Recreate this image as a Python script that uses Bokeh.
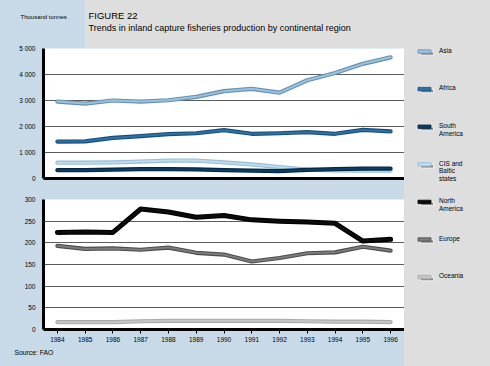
from bokeh.plotting import figure
from bokeh.layouts import column, row
from bokeh.models import Range1d, FixedTicker
from bokeh.core.properties import value
from bokeh.embed import file_html
from bokeh.resources import INLINE

# ---------------- data ----------------
years = [1984, 1985, 1986, 1987, 1988, 1989, 1990, 1991, 1992, 1993, 1994, 1995, 1996]
year_labels = [str(y) for y in years]

asia = [2960, 2880, 3000, 2960, 3010, 3140, 3360, 3450, 3300, 3780, 4060, 4410, 4660]
africa = [1420, 1430, 1560, 1630, 1710, 1740, 1860, 1720, 1740, 1780, 1720, 1870, 1810]
south_america = [320, 320, 340, 360, 360, 350, 320, 300, 280, 330, 360, 380, 380]
cis_baltic = [610, 610, 620, 650, 690, 690, 620, 540, 440, 340, 310, 300, 300]

north_america = [224, 225, 224, 278, 271, 259, 263, 253, 250, 248, 245, 204, 208]
europe = [193, 186, 187, 184, 189, 177, 173, 157, 165, 176, 178, 191, 182]
oceania = [17, 17, 17, 19, 20, 20, 20, 20, 20, 19, 18, 18, 17]

upper_ticks = [0, 1000, 2000, 3000, 4000, 5000]
upper_tick_labels = ["0", "1 000", "2 000", "3 000", "4 000", "5 000"]
lower_ticks = [0, 50, 100, 150, 200, 250, 300]
lower_tick_labels = ["0", "50", "100", "150", "200", "250", "300"]

legend_names = ["Asia", "Africa", "South\nAmerica", "CIS and\nBaltic\nstates",
                "North\nAmerica", "Europe", "Oceania"]

title_1 = "FIGURE 22"
title_2 = "Trends in inland capture fisheries production by continental region"
unit_label = "Thousand tonnes"
source_label = "Source: FAO"

# ---------------- styles ----------------
FONT = "Liberation Sans"
BLUE_BG = "#c8dae7"
GRAY_BG = "#dedede"
GRID = "#5c5c5c"

# (outer, inner, outer width, inner width)
styles_series = [
    ("#6392b4", "#9dc1da", 4.2, 2.0),   # Asia
    ("#174d78", "#2d72a6", 4.2, 2.0),   # Africa
    ("#042744", "#0b3d66", 4.2, 2.0),   # South America
    ("#98bfd8", "#bfdaec", 4.2, 2.0),   # CIS
    ("#000000", "#0c0c0c", 5.0, 2.5),   # North America
    ("#4c4c4c", "#7c7c7c", 4.2, 2.0),   # Europe
    ("#a9a9a9", "#c6c6c6", 4.2, 2.0),   # Oceania
]

W_ALL, H_ALL = 490, 366
W_PLOT = 404
W_LEG = W_ALL - W_PLOT
H_TITLE = 42
H_UP, H_LOW = 148, 156
H_SRC = H_ALL - H_TITLE - H_UP - H_LOW


def base_fig(w, h, xr, yr, **kw):
    p = figure(width=w, height=h, x_range=xr, y_range=yr, output_backend="svg",
               toolbar_location=None, **kw)
    p.border_fill_color = None
    p.outline_line_color = None
    return p


def text_fig(w, h):
    p = base_fig(w, h, Range1d(0, w), Range1d(h, 0),
                 x_axis_location=None, y_axis_location=None, min_border=0)
    p.background_fill_color = None
    p.xgrid.visible = False
    p.ygrid.visible = False
    return p


def style_axes(p, yticks, ylabels, show_x_labels):
    p.background_fill_color = "white"
    p.xgrid.visible = False
    p.ygrid.ticker = FixedTicker(ticks=yticks[1:-1])
    p.ygrid.grid_line_color = GRID
    p.ygrid.grid_line_width = 1
    ya = p.yaxis[0]
    ya.ticker = FixedTicker(ticks=yticks)
    ya.major_label_overrides = {t: l for t, l in zip(yticks, ylabels)}
    ya.axis_line_width = 3
    ya.axis_line_color = "black"
    ya.major_tick_out = 0
    ya.major_tick_in = 0
    ya.minor_tick_out = 0
    ya.minor_tick_in = 0
    ya.major_label_standoff = 8
    ya.major_label_text_font = FONT
    ya.major_label_text_font_size = "6.5px"
    ya.major_label_text_color = "black"
    xa = p.xaxis[0]
    xa.axis_line_width = 3
    xa.axis_line_color = "black"
    xa.minor_tick_out = 0
    xa.minor_tick_in = 0
    if show_x_labels:
        xa.ticker = FixedTicker(ticks=years)
        xa.major_label_overrides = {y: l for y, l in zip(years, year_labels)}
        xa.major_tick_out = 4
        xa.major_tick_in = 0
        xa.major_tick_line_color = "black"
        xa.major_tick_line_width = 1
        xa.major_label_standoff = 3
        xa.major_label_text_font = FONT
        xa.major_label_text_font_size = "6.5px"
        xa.major_label_text_color = "black"
    else:
        xa.ticker = FixedTicker(ticks=[])
        xa.major_tick_out = 0
        xa.major_tick_in = 0


def draw_series(p, ys, st):
    outer, inner, wo, wi = st
    p.line(years, ys, line_color=outer, line_width=wo, line_join="round", line_cap="round")
    p.line(years, ys, line_color=inner, line_width=wi, line_join="round", line_cap="round")


# ---------------- title strip ----------------
title_fig = text_fig(W_ALL, H_TITLE)
title_fig.text(x=[20], y=[16.5], text=[unit_label], text_font=value(FONT),
               text_font_size="6px", text_baseline="middle", text_align="left",
               text_color="black")
title_fig.text(x=[88], y=[15], text=[title_1], text_font=value(FONT),
               text_font_size="9.5px", text_baseline="middle", text_align="left",
               text_color="black")
title_fig.text(x=[88], y=[27.5], text=[title_2], text_font=value(FONT),
               text_font_size="9px", text_baseline="middle", text_align="left",
               text_color="black")

# ---------------- upper panel ----------------
XR = (1983.5, 1996.5)
upper = base_fig(W_PLOT, H_UP, Range1d(*XR), Range1d(0, 5000),
                 min_border_left=43, min_border_right=0, min_border_top=6, min_border_bottom=12)
style_axes(upper, upper_ticks, upper_tick_labels, False)
draw_series(upper, asia, styles_series[0])
draw_series(upper, africa, styles_series[1])
draw_series(upper, cis_baltic, styles_series[3])
draw_series(upper, south_america, styles_series[2])

# ---------------- lower panel ----------------
lower = base_fig(W_PLOT, H_LOW, Range1d(*XR), Range1d(0, 300),
                 min_border_left=43, min_border_right=0, min_border_top=9, min_border_bottom=17)
style_axes(lower, lower_ticks, lower_tick_labels, True)
draw_series(lower, north_america, styles_series[4])
draw_series(lower, europe, styles_series[5])
draw_series(lower, oceania, styles_series[6])

# ---------------- legend column ----------------
H_LEG = H_UP + H_LOW
leg = text_fig(W_LEG, H_LEG)
n = len(legend_names)
ly = [9 + i * 37.6 for i in range(n)]
leg.rect(x=[22.5] * n, y=[v + 2.0 for v in ly], width=13, height=3.4,
         fill_color="#8a8a8a", line_color="white", line_width=0.8)
leg.rect(x=[20] * n, y=ly, width=13, height=3.4,
         fill_color=[s[1] for s in styles_series], line_color=[s[0] for s in styles_series],
         line_width=0.8)
leg.text(x=[34.5] * n, y=[v - 4.8 for v in ly], text=legend_names, text_font=value(FONT),
         text_font_size="6.5px", text_baseline="top", text_align="left",
         text_color="black", text_line_height=1.12)

# ---------------- source line ----------------
src = text_fig(W_ALL, H_SRC)
src.text(x=[14], y=[5.5], text=[source_label], text_font=value(FONT),
         text_font_size="6.8px", text_baseline="middle", text_align="left",
         text_color="black")

root = column(title_fig, row(column(upper, lower), leg), src,
              styles={
                  "background-color": BLUE_BG,
                  "background-image": "linear-gradient(%s,%s), linear-gradient(%s,%s)" % (GRAY_BG, GRAY_BG, GRAY_BG, GRAY_BG),
                  "background-size": "%dpx 100%%, 405px 48px" % W_LEG,
                  "background-position": "right top, right top",
                  "background-repeat": "no-repeat, no-repeat",
              })

open("out.html", "w").write(file_html(root, INLINE))
